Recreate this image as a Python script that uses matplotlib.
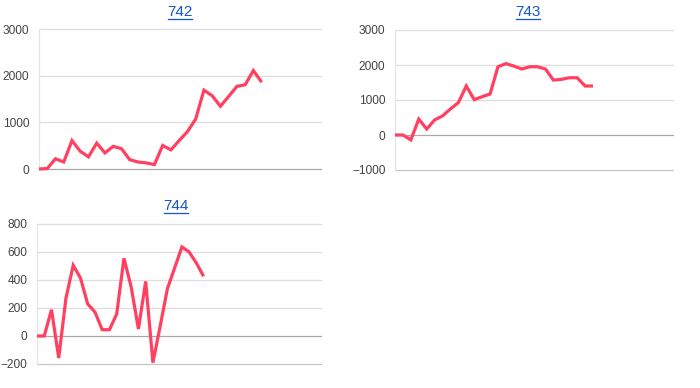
import matplotlib
matplotlib.use("Agg")
import matplotlib.pyplot as plt
from matplotlib.lines import Line2D

plt.rcParams['font.family'] = ['Liberation Sans', 'DejaVu Sans']

# 台ごとの差枚推移
titles = ["742", "743", "744"]

vals_742 = [0, 10, 220, 150, 610, 380, 260, 555, 345, 485, 435, 200,
            150, 130, 95, 505, 410, 610, 800, 1070, 1690, 1570, 1345,
            1555, 1770, 1805, 2110, 1860]
vals_743 = [0, 0, -140, 455, 170, 430, 545, 745, 925, 1400, 1010, 1095,
            1170, 1950, 2040, 1970, 1885, 1950, 1950, 1885, 1570, 1590,
            1635, 1635, 1400, 1400]
vals_744 = [0, 0, 188, -157, 271, 505, 414, 229, 171, 45, 45, 157, 555,
            350, 50, 390, -190, 70, 338, 486, 636, 600, 521, 426]

yticks_742 = [0, 1000, 2000, 3000]
yticks_743 = [-1000, 0, 1000, 2000, 3000]
yticks_744 = [-200, 0, 200, 400, 600, 800]

W, H = 700, 388
LINE = "#ff4060"
GRID = "#dedede"
BOTTOM = "#c6c6c6"
BASE = "#a8a8a8"
LINK = "#1155cc"

fig = plt.figure(figsize=(W / 100, H / 100), dpi=100)


def px_axes(x0, y0, x1, y1):
    # 画素座標（左上原点）から axes を作る
    return fig.add_axes([x0 / W, 1 - y1 / H, (x1 - x0) / W, (y1 - y0) / H])


def draw_panel(box, vals, yticks, xmax, title, title_xy):
    ax = px_axes(*box)
    ax.plot(range(len(vals)), vals, color=LINE, lw=2.3, solid_joinstyle="miter",
            solid_capstyle="butt", clip_on=False, zorder=3)
    ax.set_xlim(0, xmax)
    ax.set_ylim(yticks[0], yticks[-1])
    ax.set_yticks(yticks)
    ax.set_xticks([])
    for t in yticks:
        if t == 0:
            c = BASE
        elif t == yticks[0]:
            c = BOTTOM
        else:
            c = GRID
        ax.axhline(t, color=c, lw=0.9, zorder=1, clip_on=False)
    ax.axvline(0, color="#e6e6e6", lw=0.9, zorder=1, clip_on=False)
    for s in ax.spines.values():
        s.set_visible(False)
    ax.tick_params(axis="y", length=0, pad=7, labelsize=8.6, labelcolor="#444444")
    ax.set_facecolor("none")

    tx, ty = title_xy
    txt = fig.text(tx / W, 1 - ty / H, title, color=LINK, fontsize=11,
                   ha="center", va="center")
    return txt


texts = []
texts.append(draw_panel((39, 29, 321, 169), vals_742, yticks_742, 34.2,
                        titles[0], (180, 12)))
texts.append(draw_panel((395, 30, 673, 170), vals_743, yticks_743, 35.1,
                        titles[1], (528, 12)))
texts.append(draw_panel((37, 224, 321, 364), vals_744, yticks_744, 39.2,
                        titles[2], (176, 206)))

# タイトルに下線を付ける
fig.canvas.draw()
r = fig.canvas.get_renderer()
for t in texts:
    bb = t.get_window_extent(r)
    y = (bb.y0 + 0.5) / H
    fig.add_artist(Line2D([(bb.x0 + 1) / W, (bb.x1 - 1) / W], [y, y],
                          color=LINK, lw=0.9))

fig.savefig("out.png", dpi=100)
